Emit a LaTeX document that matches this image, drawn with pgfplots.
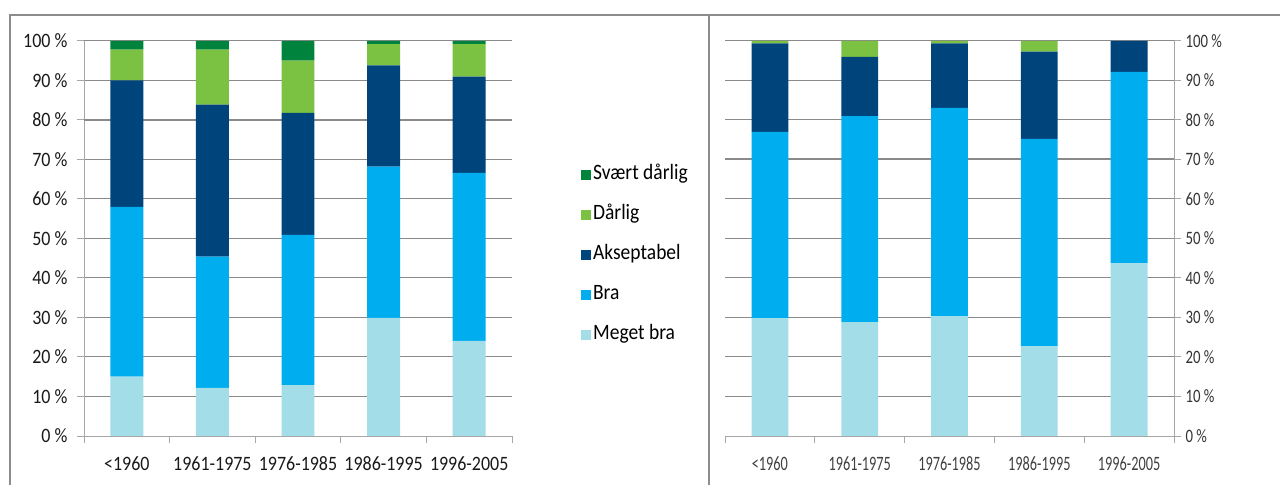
\documentclass[border=0pt]{standalone}
\usepackage{fontspec}
\setmainfont{Carlito}
\newfontfamily\leftfont[FakeStretch=0.88]{Carlito}
\newfontfamily\legfont[FakeStretch=0.89]{Carlito}
\newfontfamily\rxfont[FakeStretch=0.70]{Carlito}
\newfontfamily\ryfont[FakeStretch=0.78]{Carlito}
\usepackage{pgfplots}
\usepackage{pgfplotstable}
\pgfplotsset{compat=1.18}
\definecolor{svd}{HTML}{00843D}
\definecolor{dar}{HTML}{7BC142}
\definecolor{aks}{HTML}{00447C}
\definecolor{bra}{HTML}{00AEEF}
\definecolor{mb}{HTML}{A3DDE8}
\definecolor{gridc}{HTML}{8A8A8A}
\definecolor{axc}{HTML}{A6A6A6}
\definecolor{framec}{HTML}{8C8C8C}

\pgfplotstableread{
x mb bra aks dar svd
0 15.0 43.0 32.0 7.8 2.2
1 12.2 33.2 38.5 13.9 2.2
2 12.9 38.0 30.9 13.2 5.0
3 29.9 38.3 25.6 5.4 0.8
4 24.1 42.5 24.4 8.2 0.8
}\lefttab
\pgfplotstableread{
x mb bra aks dar
0 29.8 47.2 22.4 0.6
1 28.8 52.2 15.0 4.0
2 30.3 52.8 16.3 0.6
3 22.7 52.5 22.1 2.7
4 43.7 48.5 7.8 0.0
}\righttab

\pgfplotsset{
  common/.style={
    scale only axis, height=395bp,
    ybar stacked, ymin=0, ymax=100, xmin=-0.5, xmax=4.5,
    axis x line*=bottom,
    xtick={0,1,2,3,4},
    xticklabels={<1960,1961-1975,1976-1985,1986-1995,1996-2005},
    ytick={0,10,...,100},
    yticklabels={0 \%,10 \%,20 \%,30 \%,40 \%,50 \%,60 \%,70 \%,80 \%,90 \%,100 \%},
    ymajorgrids, grid style={draw=gridc, line width=1bp},
    axis line style={draw=axc, line width=1bp},
    tick align=outside,
    major tick length=7bp,
    major tick style={draw=axc, line width=1bp},
    major x tick style={draw=none},
    extra x ticks={-0.5,0.5,1.5,2.5,3.5,4.5},
    extra x tick labels={},
    extra x tick style={grid=none, major tick length=7bp, major x tick style={draw=axc, line width=1bp}},
    every axis plot/.append style={draw=none},
    legend image code/.code={\fill[##1] (0bp,-5bp) rectangle (10bp,5bp);},
  }
}

\begin{document}
\begin{tikzpicture}
\path[use as bounding box, clip] (0,0) rectangle (1280bp,485bp);
\draw[framec, line width=2bp] (10bp,-5bp) -- (10bp,470bp) -- (1285bp,470bp);
\draw[framec, line width=2bp] (709bp,-5bp) -- (709bp,470bp);

\begin{axis}[common,
  width=428bp, at={(84bp,49bp)}, anchor=south west,
  axis y line*=left,
  bar width=0.385,
  extra y ticks={80}, extra y tick labels={},
  extra y tick style={grid style={draw=gridc, line width=2bp}},
  ticklabel style={font=\leftfont\fontsize{20.5}{23}\selectfont, text=black!90},
  yticklabel style={xshift=-6bp},
  xticklabel style={yshift=-10bp},
  reverse legend,
  legend style={at={(1.161,0.458)}, anchor=west, draw=none, fill=none,
    font=\legfont\fontsize{22}{25}\selectfont, row sep=20bp, inner sep=0pt,
    nodes={text height=14bp, text depth=6bp, inner sep=0pt, inner xsep=2bp},
    cells={anchor=west}},
]
\addplot[fill=mb] table[x=x,y=mb]{\lefttab};
\addlegendentry{Meget bra}
\addplot[fill=bra] table[x=x,y=bra]{\lefttab};
\addlegendentry{Bra}
\addplot[fill=aks] table[x=x,y=aks]{\lefttab};
\addlegendentry{Akseptabel}
\addplot[fill=dar] table[x=x,y=dar]{\lefttab};
\addlegendentry{Dårlig}
\addplot[fill=svd] table[x=x,y=svd]{\lefttab};
\addlegendentry{Svært dårlig}
\end{axis}

\begin{axis}[common,
  width=449bp, at={(725bp,49bp)}, anchor=south west,
  axis y line*=right,
  bar width=0.41,
  extra y ticks={70}, extra y tick labels={},
  extra y tick style={grid style={draw=gridc, line width=2bp}},
  xticklabel style={font=\rxfont\fontsize{20.5}{23}\selectfont, text=black!75, yshift=-10bp},
  yticklabel style={font=\ryfont\fontsize{19}{22}\selectfont, text=black!80, anchor=west, xshift=1bp},
]
\addplot[fill=mb] table[x=x,y=mb]{\righttab};
\addplot[fill=bra] table[x=x,y=bra]{\righttab};
\addplot[fill=aks] table[x=x,y=aks]{\righttab};
\addplot[fill=dar] table[x=x,y=dar]{\righttab};
\end{axis}
\end{tikzpicture}
\end{document}
